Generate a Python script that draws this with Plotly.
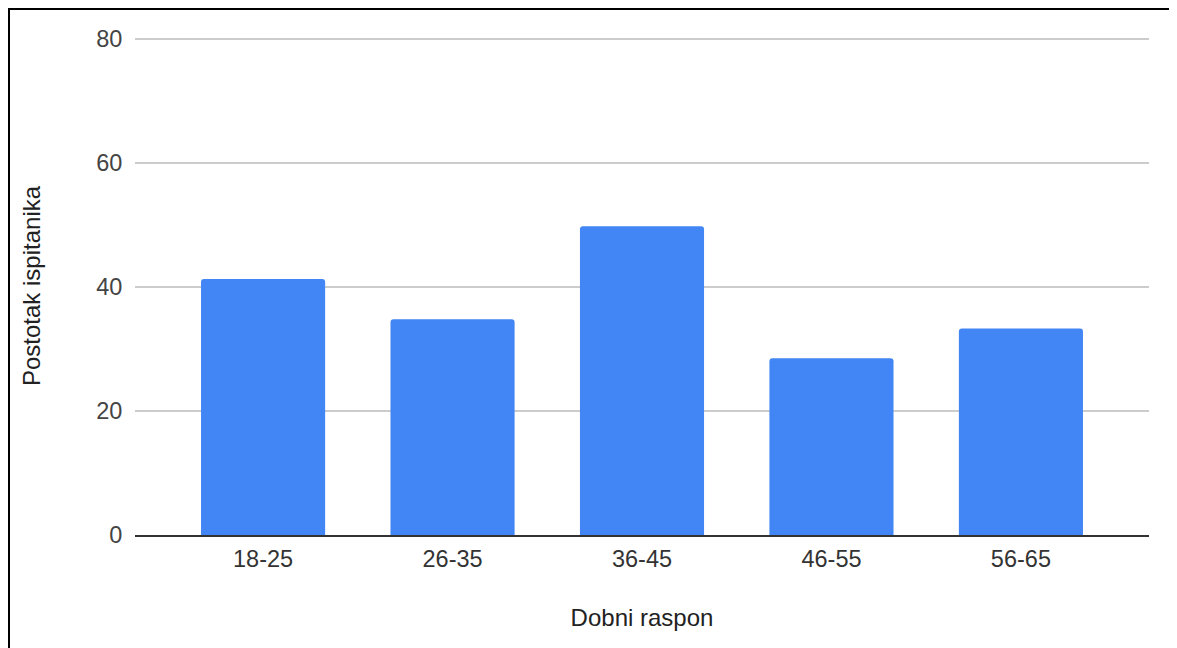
import plotly.graph_objects as go

categories = ["18-25", "26-35", "36-45", "46-55", "56-65"]
values = [41.3, 34.8, 49.8, 28.5, 33.3]
y_ticks = [0, 20, 40, 60, 80]

# page has an 8px body margin, so the figure is 8px smaller than the window
W, H = 1169, 640
L, R, T, B = 127, 28, 29, 113
FONT = "Arial, Liberation Sans, sans-serif"

fig = go.Figure(
    go.Bar(
        x=list(range(len(categories))),
        y=values,
        marker=dict(color="#4285F4", cornerradius=3, line=dict(width=0)),
        width=0.655,
        hoverinfo="skip",
    )
)

pw = W - L - R
ph = H - T - B
# frame around image (cut at right and bottom like the reference)
fx0 = (1 - L) / pw
fy1 = 1 + (T - 1) / ph
fig.add_shape(type="line", xref="paper", yref="paper", x0=fx0, x1=fx0, y0=-1, y1=fy1 + 0.01,
              line=dict(color="#000000", width=2))
fig.add_shape(type="line", xref="paper", yref="paper", x0=fx0 - 0.01, x1=1.5, y0=fy1, y1=fy1,
              line=dict(color="#000000", width=2))

fig.update_layout(
    width=W,
    height=H,
    margin=dict(l=L, r=R, t=T, b=B, autoexpand=False),
    paper_bgcolor="white",
    plot_bgcolor="white",
    showlegend=False,
    font=dict(family=FONT, size=23, color="#444444"),
    xaxis=dict(
        tickmode="array",
        tickvals=list(range(len(categories))),
        ticktext=categories,
        range=[-0.676, 4.676],
        showgrid=False,
        showline=True,
        linecolor="#333333",
        linewidth=2,
        ticks="outside",
        ticklen=2,
        tickcolor="rgba(0,0,0,0)",
        tickfont=dict(size=23.5, color="#333333"),
        title=dict(text="Dobni raspon", font=dict(size=24, color="#222222"), standoff=38),
        fixedrange=True,
        zeroline=False,
    ),
    yaxis=dict(
        range=[0, 80.32],
        tickmode="array",
        tickvals=y_ticks,
        ticktext=[str(v) for v in y_ticks],
        showgrid=True,
        gridcolor="#cccccc",
        gridwidth=1.5,
        zeroline=False,
        showline=False,
        ticks="outside",
        ticklen=7,
        tickcolor="rgba(0,0,0,0)",
        tickfont=dict(size=23.5, color="#444444"),
        title=dict(text="Postotak ispitanika", font=dict(size=24, color="#222222"), standoff=48),
        fixedrange=True,
    ),
)

fig.write_html("out.html")
